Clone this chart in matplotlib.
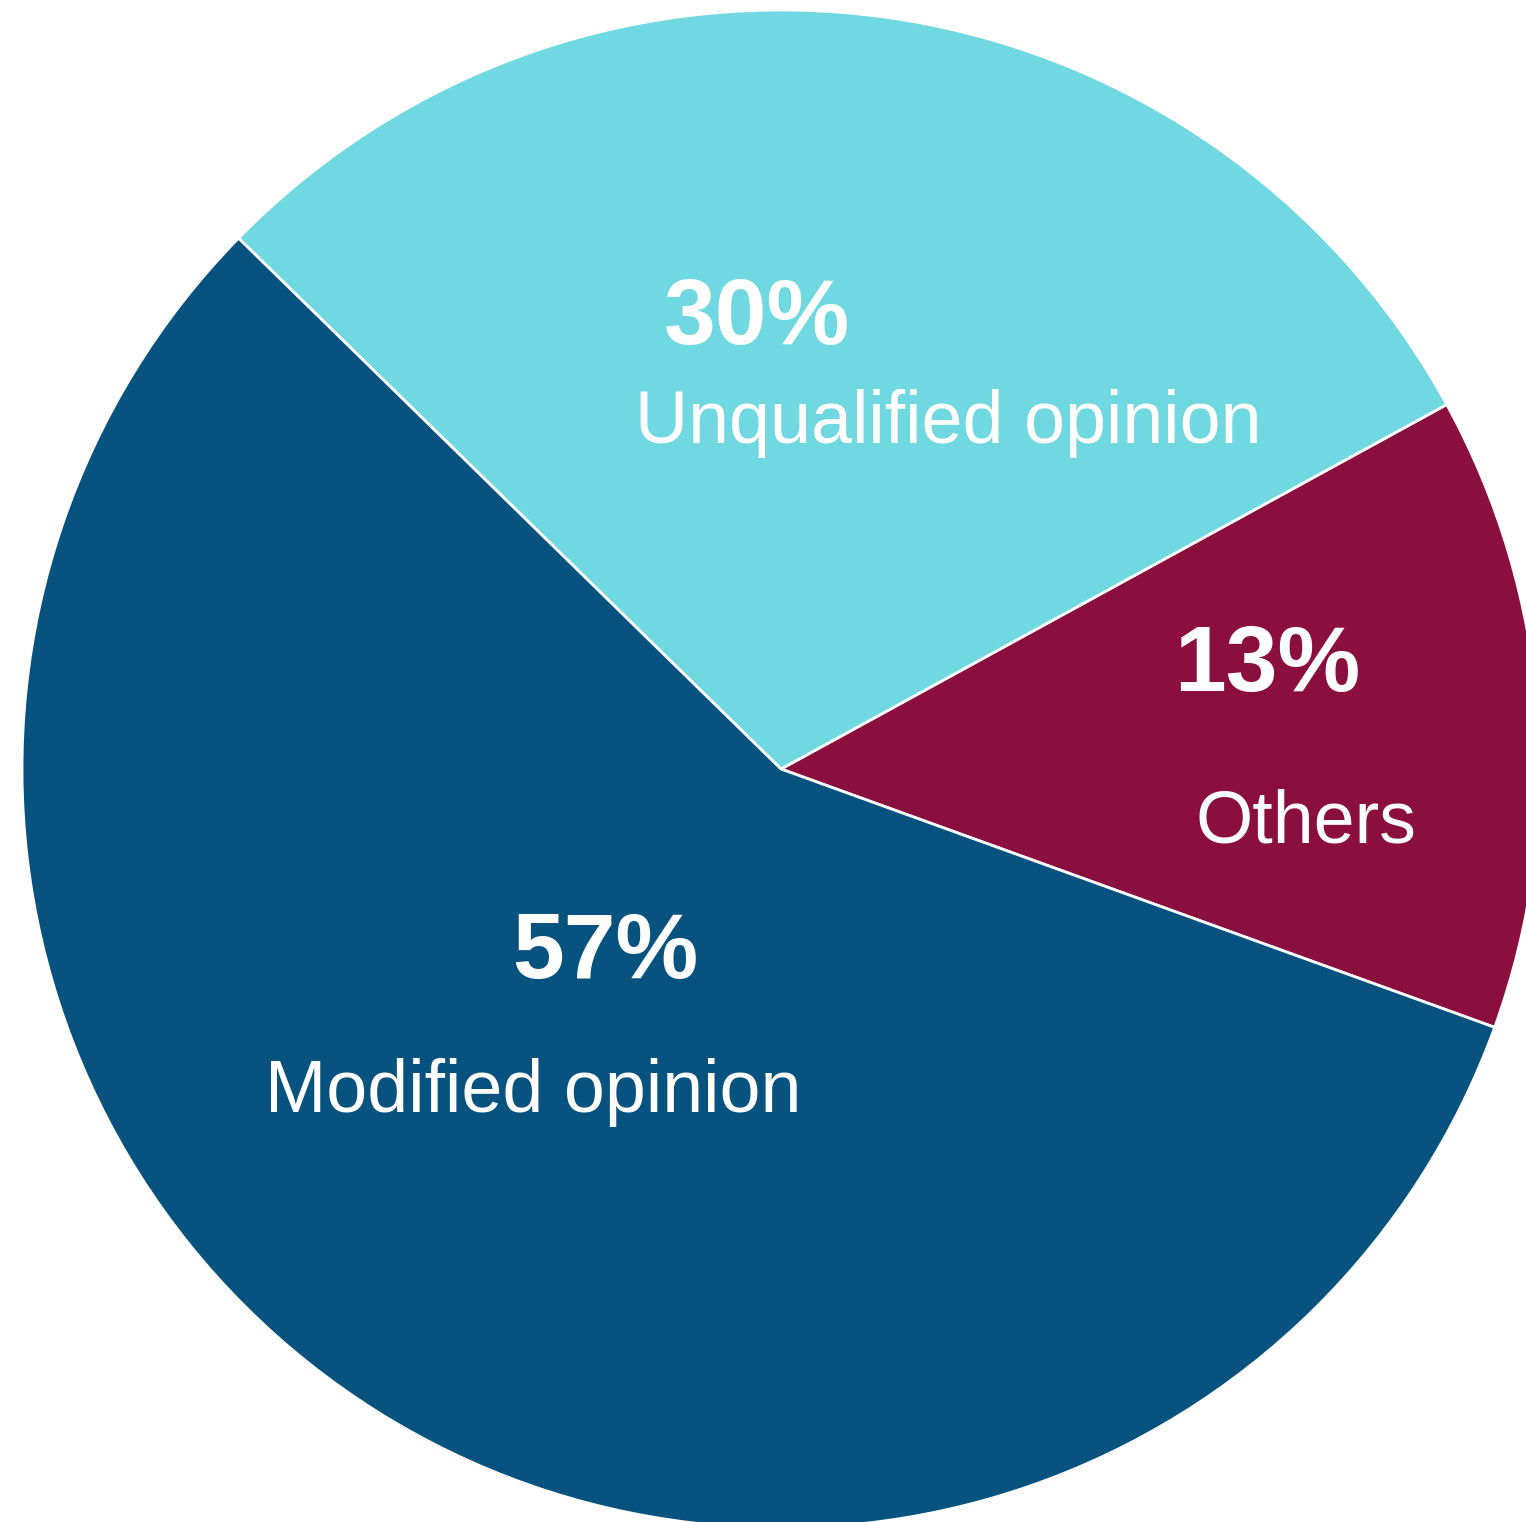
import matplotlib.pyplot as plt

# Data (shares, labels as printed)
categories = ['Others', 'Unqualified opinion', 'Modified opinion']
shares = [13.5, 29.7, 56.8]
pct_labels = ['13%', '30%', '57%']
colors = ['#8B0F3E', '#70D8E0', '#07527F']

plt.rcParams['font.family'] = ['Liberation Sans', 'DejaVu Sans']

fig = plt.figure(figsize=(15.26, 15.22), dpi=100)
ax = fig.add_axes([0, 0, 1, 1])

# pie centre sits at pixel (781, 769), radius 759 px
r_px = 759.0
ax.set_xlim(-781/r_px, (1526-781)/r_px)
ax.set_ylim(-(1522-769)/r_px, 769/r_px)
ax.axis('off')

ax.pie(shares, colors=colors, startangle=-19.9, counterclock=True,
       radius=1.0, center=(0, 0), frame=True,
       wedgeprops=dict(edgecolor='white', linewidth=2))
ax.set_xlim(-781/r_px, (1526-781)/r_px)
ax.set_ylim(-(1522-769)/r_px, 769/r_px)
ax.set_aspect('auto')
ax.axis('off')

# label positions (baseline, data units from pie centre)
pct_pos = [(0.640, 0.103), (-0.032, 0.560), (-0.232, -0.275)]
name_pos = [(0.692, -0.097), (0.221, 0.430), (-0.326, -0.452)]

for lab, name, (px, py), (nx, ny) in zip(pct_labels, categories, pct_pos, name_pos):
    ax.text(px, py, lab, color='white', fontsize=67, fontweight='bold',
            ha='center', va='baseline')
    ax.text(nx, ny, name, color='white', fontsize=53,
            ha='center', va='baseline')

fig.savefig('out.png', dpi=100)
